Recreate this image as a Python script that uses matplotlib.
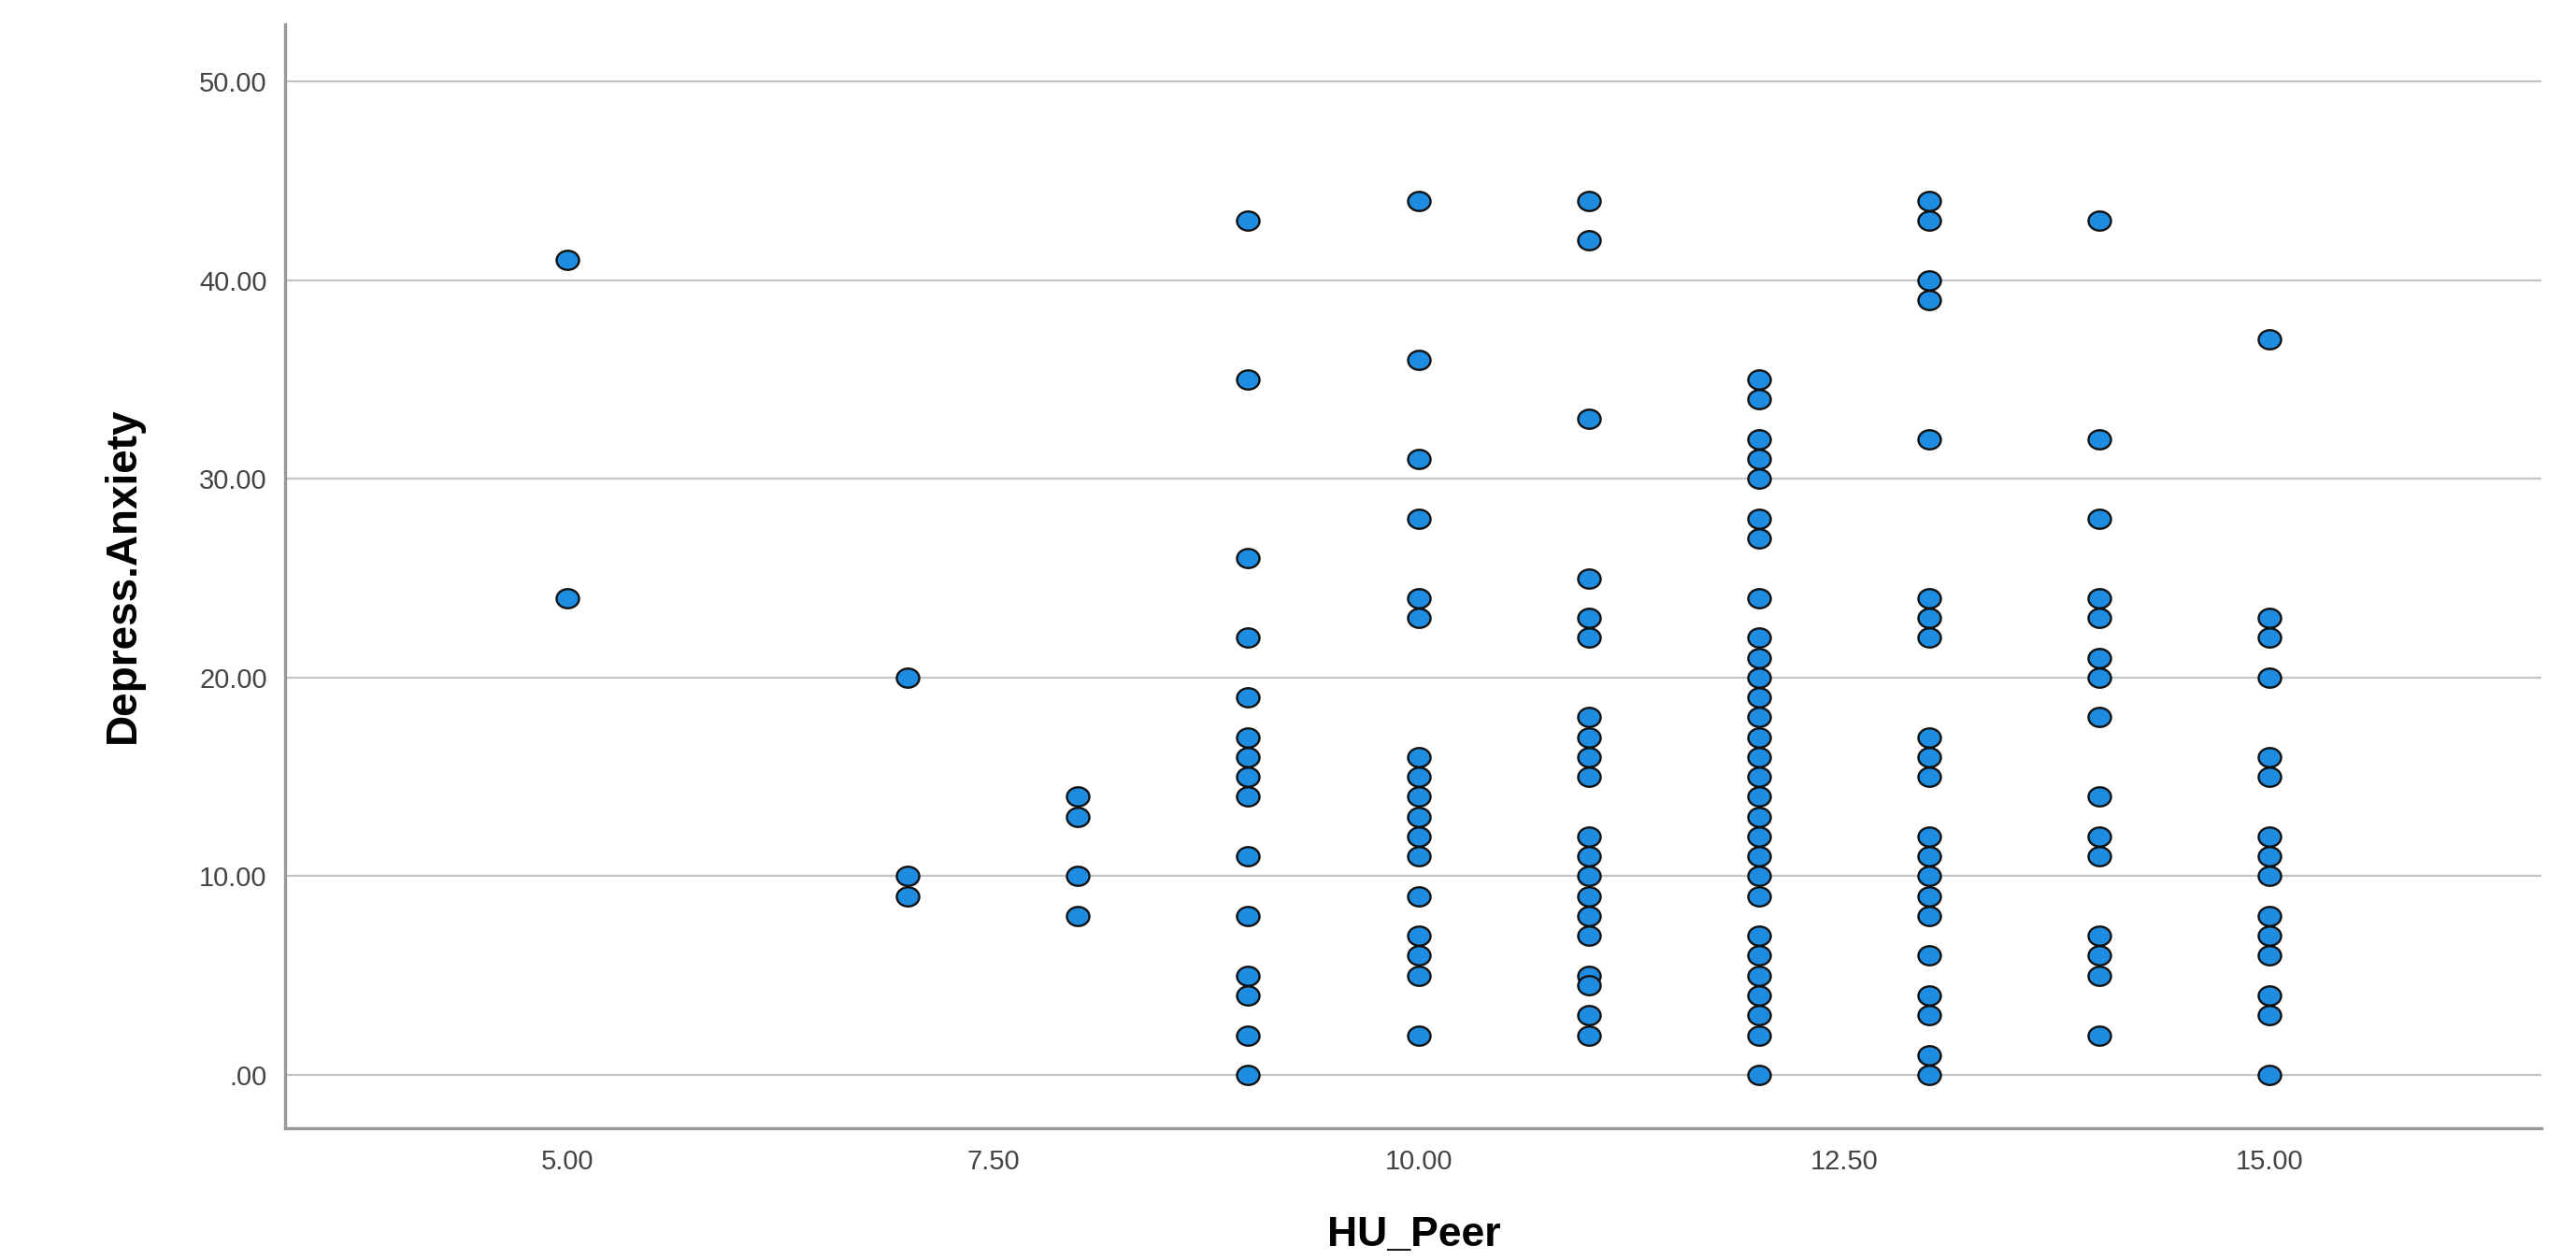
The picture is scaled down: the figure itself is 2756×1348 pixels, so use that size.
import matplotlib
matplotlib.use("Agg")
import matplotlib.pyplot as plt
from matplotlib.path import Path
import numpy as np

# Depress.Anxiety values observed at each HU_Peer level
peer_5 = [41, 24]
peer_7 = [20, 10, 9]
peer_8 = [14, 13, 10, 8]
peer_9 = [43, 35, 26, 22, 19, 17, 16, 15, 14, 11, 8, 5, 4, 2, 0]
peer_10 = [44, 36, 31, 28, 24, 23, 16, 15, 14, 13, 12, 11, 9, 7, 6, 5, 2]
peer_11 = [44, 42, 33, 25, 23, 22, 18, 17, 16, 15, 12, 11, 10, 9, 8, 7, 5, 4.5, 3, 2]
peer_12 = [35, 34, 32, 31, 30, 28, 27, 24, 22, 21, 20, 19, 18, 17, 16, 15, 14,
           13, 12, 11, 10, 9, 7, 6, 5, 4, 3, 2, 0]
peer_13 = [44, 43, 40, 39, 32, 24, 23, 22, 17, 16, 15, 12, 11, 10, 9, 8, 6, 4, 3, 1, 0]
peer_14 = [43, 32, 28, 24, 23, 21, 20, 18, 14, 12, 11, 7, 6, 5, 2]
peer_15 = [37, 23, 22, 20, 16, 15, 12, 11, 10, 8, 7, 6, 4, 3, 0]

peer_levels = [5, 7, 8, 9, 10, 11, 12, 13, 14, 15]
groups = [peer_5, peer_7, peer_8, peer_9, peer_10, peer_11, peer_12, peer_13, peer_14, peer_15]

x_ticks = [5.0, 7.5, 10.0, 12.5, 15.0]
y_ticks = [0, 10, 20, 30, 40, 50]

x_vals = np.concatenate([[lvl] * len(g) for lvl, g in zip(peer_levels, groups)])
y_vals = np.concatenate(groups)

# slightly flattened circle, like the SPSS output
circ = Path.unit_circle()
oval = Path(circ.vertices * [1.0, 0.85], circ.codes)

plt.rcParams['font.family'] = ['Liberation Sans', 'DejaVu Sans']

fig = plt.figure(figsize=(27.56, 13.48), dpi=100)
ax = fig.add_axes([0.1107, 0.1046, 0.8759, 0.8761])

ax.set_axisbelow(True)
ax.grid(True, axis='y', color='#c4c4c4', linewidth=1.6)
ax.scatter(x_vals, y_vals, s=300, marker=oval, facecolor='#1e8ce0',
           edgecolor='#111111', linewidth=1.7, zorder=3)

ax.set_xlim(3.34, 16.6)
ax.set_ylim(-2.68, 52.87)
ax.set_xticks(x_ticks)
ax.set_xticklabels(["%.2f" % t for t in x_ticks])
ax.set_yticks(y_ticks)
ax.set_yticklabels([".00" if t == 0 else "%.2f" % t for t in y_ticks])
ax.tick_params(length=0, labelsize=21, labelcolor='#444444')
ax.tick_params(axis='y', pad=14)
ax.tick_params(axis='x', pad=16)

for side in ['top', 'right']:
    ax.spines[side].set_visible(False)
for side in ['left', 'bottom']:
    ax.spines[side].set_color('#999999')
    ax.spines[side].set_linewidth(2.4)

fig.text(0.5488, 1 - 1322 / 1348, "HU_Peer", ha='center', va='center',
         fontsize=32, fontweight='bold')
fig.text(132 / 2756, 1 - 615 / 1348, "Depress.Anxiety", ha='center', va='center',
         rotation=90, fontsize=33, fontweight='bold')

plt.savefig("out.png", dpi=100)
